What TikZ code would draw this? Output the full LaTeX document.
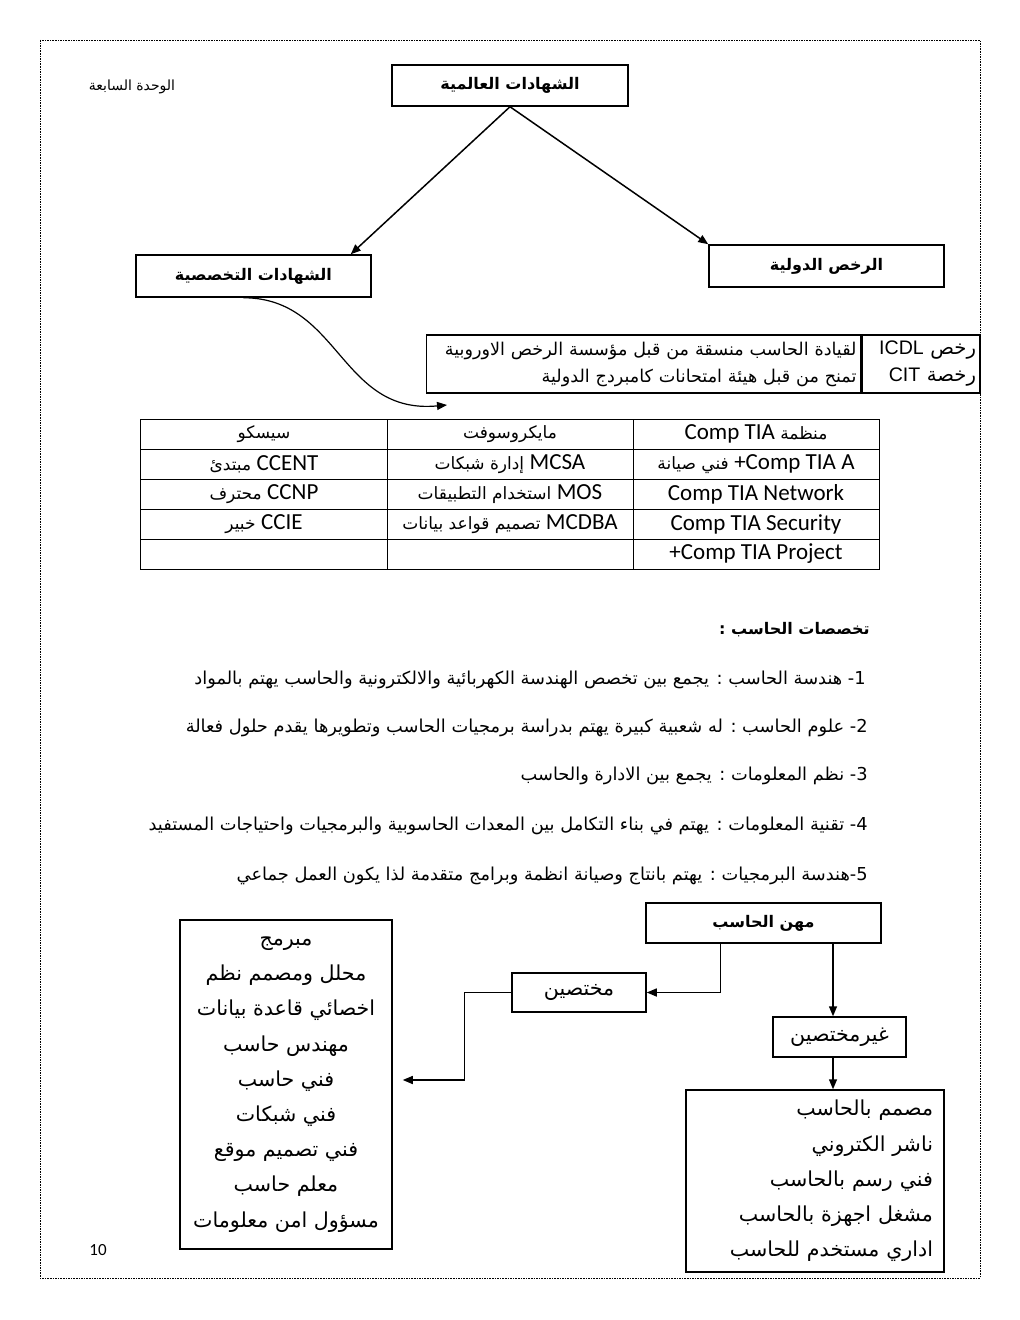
\documentclass[tikz,border=0pt]{standalone}
\usepackage{fontspec}
\setmainfont{Carlito}
\newfontfamily\arabicfont[Script=Arabic]{DejaVu Sans}
\newfontfamily\narrowfont{Liberation Sans}
\usetikzlibrary{arrows.meta,matrix,positioning}
\TeXXeTstate=1
\newcommand\artxt[1]{{\arabicfont\beginR #1\endR}}
\newcommand\lattxt[1]{\beginL{\rmfamily\fontsize{11.5}{13}\selectfont #1}\endL}

\begin{document}
\begin{tikzpicture}[x=0.5pt,y=-0.5pt,
    box/.style={draw, line width=0.75pt, inner sep=0pt},
    title/.style={font=\bfseries\fontsize{8}{10}\selectfont},
    plain/.style={font=\fontsize{8.9}{11}\selectfont, inner sep=0pt},
    big/.style={font=\fontsize{10.3}{17.6}\selectfont},
    cell/.style={draw, line width=0.5pt, minimum width=123pt, minimum height=15pt, anchor=center,
                 inner sep=0pt, font=\fontsize{8.5}{10}\selectfont},
    conn/.style={line width=0.75pt, -{Triangle[length=5pt,width=4pt]}}]
  \useasboundingbox (0,0) rectangle (1020,1320);
  % page frame
  \draw[line width=0.4pt, dash pattern=on 0.8pt off 0.5pt] (40,40) rectangle (980,1278);
  \node[font=\fontsize{7}{8}\selectfont] (unit) at (132,87) {\artxt{الوحدة السابعة}};

  % certificates tree
  \node[box, title, minimum width=118pt, minimum height=20.5pt] (world) at (510,85.5) {\artxt{الشهادات العالمية}};
  \node[box, title, minimum width=117.5pt, minimum height=21pt] (special) at (253.5,276) {\artxt{الشهادات التخصصية}};
  \node[box, title, minimum width=117.5pt, minimum height=21pt] (licence) at (826.5,266) {\artxt{الرخص الدولية}};
  \draw[conn] (world.south) -- ([xshift=-10.5pt]special.north east);
  \draw[conn] (world.south) -- (licence.north west);
  \coordinate (certin) at (447,405);
  \draw[conn, line width=0.6pt] ([xshift=-5pt]special.south) .. controls (340,298) and (340,415) .. (certin);

  % licences table
  \node[box, font=\fontsize{9.8}{13.5}\selectfont, minimum width=59pt, minimum height=29pt,
        align=right, text width=55pt] (licname) at (921,364)
        {\artxt{رخص \beginL{\narrowfont ICDL}\endL}\\ \artxt{رخصة \beginL{\narrowfont CIT}\endL}};
  \node[box, font=\fontsize{8.8}{13.5}\selectfont, minimum width=217pt, minimum height=29pt,
        align=right, text width=213pt, left=0pt of licname] (licdesc)
        {\artxt{لقيادة الحاسب منسقة من قبل مؤسسة الرخص الاوروبية}\\ \artxt{تمنح من قبل هيئة امتحانات كامبردج الدولية}};

  % vendors table
  \matrix (certs) [matrix of nodes, nodes in empty cells, nodes={cell},
                   column sep=-0.5pt, row sep=-0.5pt] at (510,494) {
    \artxt{سيسكو} & \artxt{مايكروسوفت} & \artxt{منظمة \lattxt{Comp TIA}} \\
    \artxt{\lattxt{CCENT} مبتدئ} & \artxt{\lattxt{MCSA} إدارة شبكات} & \artxt{\lattxt{+Comp TIA A} فني صيانة} \\
    \artxt{\lattxt{CCNP} محترف} & \artxt{\lattxt{MOS} استخدام التطبيقات} & \lattxt{Comp TIA Network} \\
    \artxt{\lattxt{CCIE} خبير} & \artxt{\lattxt{MCDBA} تصميم قواعد بيانات} & \lattxt{Comp TIA Security} \\
    & & \lattxt{+Comp TIA Project} \\
  };

  % majors
  \node[plain, title, anchor=east] (majors) at (870,630) {\artxt{تخصصات الحاسب :}};
  \node[plain, anchor=east] (major1) at (866,680) {\artxt{\beginL 1\endL-\ هندسة الحاسب : يجمع بين تخصص الهندسة الكهربائية والالكترونية والحاسب يهتم بالمواد}};
  \node[plain, anchor=east] (major2) at (868,728) {\artxt{\beginL 2\endL-\ علوم الحاسب : له شعبية كبيرة يهتم بدراسة برمجيات الحاسب وتطويرها يقدم حلول فعالة}};
  \node[plain, anchor=east] (major3) at (868,776) {\artxt{\beginL 3\endL-\ نظم المعلومات : يجمع بين الادارة والحاسب}};
  \node[plain, anchor=east] (major4) at (868,826) {\artxt{\beginL 4\endL-\ تقنية المعلومات : يهتم في بناء التكامل بين المعدات الحاسوبية والبرمجيات واحتياجات المستفيد}};
  \node[plain, anchor=east] (major5) at (868,876) {\artxt{\beginL 5\endL-\kern0pt هندسة البرمجيات : يهتم بانتاج وصيانة انظمة وبرامج متقدمة لذا يكون العمل جماعي}};

  % jobs tree
  \node[box, title, minimum width=117.5pt, minimum height=20pt] (jobs) at (763.5,923) {\artxt{مهن الحاسب}};
  \node[box, big, minimum width=67pt, minimum height=19.5pt] (expert) at (579,992.5) {\artxt{مختصين}};
  \node[box, big, minimum width=66.5pt, minimum height=20pt] (nonexpert) at (839.5,1037) {\artxt{غيرمختصين}};
  \node[box, big, minimum width=106pt, minimum height=164.5pt, align=center] (expertlist) at (286,1084.5)
        {\artxt{مبرمج}\\ \artxt{محلل ومصمم نظم}\\ \artxt{اخصائي قاعدة بيانات}\\ \artxt{مهندس حاسب}\\
         \artxt{فني حاسب}\\ \artxt{فني شبكات}\\ \artxt{فني تصميم موقع}\\ \artxt{معلم حاسب}\\ \artxt{مسؤول امن معلومات}};
  \node[box, big, minimum width=129pt, minimum height=91pt, align=right, text width=118pt] (nonexpertlist) at (815,1181)
        {\artxt{مصمم بالحاسب}\\ \artxt{ناشر الكتروني}\\ \artxt{فني رسم بالحاسب}\\ \artxt{مشغل اجهزة بالحاسب}\\ \artxt{اداري مستخدم للحاسب}};
  \coordinate (drop) at ([xshift=-3.25pt]nonexpert.north);
  \draw[conn] ([xshift=37.5pt]jobs.south west) |- (expert.east);
  \draw[conn] (drop |- jobs.south) -- (drop);
  \draw[conn] (drop |- nonexpert.south) -- (drop |- nonexpertlist.north);
  \draw[conn] (expert.west) -- ++(-23.5pt,0) |- ([xshift=5pt,yshift=2.25pt]expertlist.east);

  \node[font=\fontsize{8.5}{10}\selectfont] (pagenum) at (98,1250) {10};
\end{tikzpicture}
\end{document}
